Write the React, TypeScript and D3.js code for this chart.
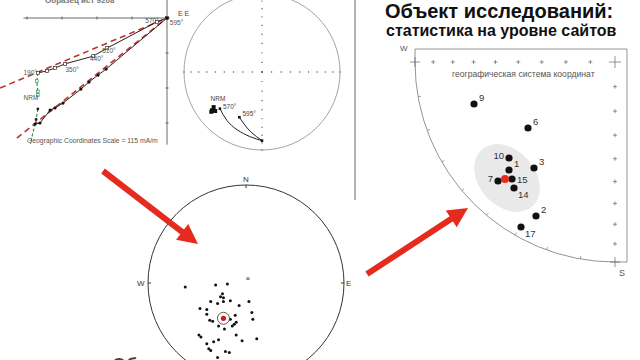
import React from "react";
import * as d3 from "d3";

// ---------- Data ----------
// Zijderveld diagram (units = scale ticks, origin at top-right)
const zijHorizontal: [number, number][] = [
  [0, 0], [-0.29, 0.11], [-1.71, 0.86], [-2.11, 1.09], [-2.91, 1.31], [-3.2, 1.43], [-3.43, 1.51], [-3.69, 1.57],
];
const zijVertical: [number, number][] = [
  [0, 0], [-1.74, 1.46], [-1.97, 1.63], [-2.23, 1.83], [-2.46, 2.03], [-2.97, 2.43], [-3.2, 2.57], [-3.34, 2.63], [-3.63, 3.0], [-3.77, 3.03],
];
const zijGreenH: [number, number][] = [[-3.69, 1.57], [-3.72, 1.8], [-3.69, 2.1], [-3.69, 2.2]];
const zijGreenV: [number, number][] = [[-3.69, 2.6], [-3.74, 2.9], [-3.86, 3.4], [-3.9, 3.6]];
const zijFits: [number, number][][] = [
  [[-4.77, 2.0], [0, 0]],
  [[-4.29, 3.43], [0, 0]],
];
const zijLabels = [
  { t: "570°", p: [-0.62, 0.14] },
  { t: "595°", p: [0.08, 0.2] },
  { t: "510°", p: [-1.85, 1.0] },
  { t: "440°", p: [-2.2, 1.23] },
  { t: "350°", p: [-2.9, 1.55] },
  { t: "190°", p: [-4.1, 1.62] },
  { t: "NRM", p: [-4.1, 2.33] },
];
const zijTicksX = [-4, -3, -2, -1];
const zijTicksY = [1, 2, 3];

// Demagnetisation stereonet (normalised projection coords, north up)
const demagNrm: [number, number][] = [[-0.62, -0.45], [-0.64, -0.49], [-0.65, -0.51], [-0.6, -0.5]];
const demagPath1: [number, number][] = [[-0.54, -0.47], [-0.45, -0.62], [-0.32, -0.74], [-0.15, -0.83], [0, -0.88]];
const demagPath2: [number, number][] = [[-0.29, -0.58], [-0.22, -0.68], [-0.13, -0.78], [0, -0.88]];

// Specimen directions stereonet
const specimenDirs: [number, number][] = [
  [-0.62, -0.04], [-0.31, -0.02], [-0.19, -0.01], [-0.24, -0.11], [-0.26, -0.14], [-0.23, -0.15], [-0.16, -0.18],
  [-0.36, -0.19], [-0.29, -0.21], [-0.23, -0.19], [-0.07, -0.23], [0.03, -0.19], [-0.47, -0.26], [-0.4, -0.27],
  [0.06, -0.3], [-0.4, -0.32], [-0.11, -0.33], [0.07, -0.37], [-0.37, -0.38], [-0.34, -0.39], [-0.16, -0.37],
  [-0.1, -0.4], [-0.12, -0.42], [-0.14, -0.44], [-0.22, -0.47], [-0.28, -0.44], [-0.48, -0.53], [-0.46, -0.55],
  [-0.28, -0.58], [-0.33, -0.6], [-0.1, -0.53], [-0.04, -0.59], [0.11, -0.57], [-0.4, -0.62], [-0.38, -0.67],
  [-0.36, -0.69], [-0.21, -0.7], [-0.17, -0.71], [-0.29, -0.76],
];
const specimenCross: [number, number] = [0.02, 0.05];
const specimenMean: [number, number] = [-0.23, -0.36];

// Site-level stereonet (quarter W–S)
const siteNames = ["9", "6", "10", "1", "3", "7", "15", "14", "2", "17"];
const siteX = [-0.705, -0.435, -0.53, -0.53, -0.405, -0.585, -0.515, -0.505, -0.395, -0.47];
const siteY = [-0.21, -0.33, -0.48, -0.54, -0.53, -0.595, -0.585, -0.63, -0.77, -0.825];
const siteLabelSide = ["r", "r", "l", "r", "r", "l", "rm", "rb", "r", "rb"];
const siteMean: [number, number] = [-0.55, -0.585];
const inclinationTicks = [0, 10, 20, 30, 40, 50, 60, 70, 80];
const azimuthTicks = [10, 20, 30, 40, 50, 60, 70, 80];

const eqArea = (inc: number) => Math.SQRT2 * Math.sin(((90 - inc) / 2) * Math.PI / 180);

const RED = "#e52b1e";
const FIT = "#c0322e";
const GREEN = "#2f8f5a";
const FONT = "Liberation Sans, Arial, sans-serif";

function Arrow({ x1, y1, x2, y2 }: { x1: number; y1: number; x2: number; y2: number }) {
  const dx = x2 - x1, dy = y2 - y1;
  const L = Math.hypot(dx, dy);
  const ux = dx / L, uy = dy / L;
  const head = 20, hw = 10;
  const bx = x2 - ux * head, by = y2 - uy * head;
  const px = -uy, py = ux;
  return (
    <g>
      <line x1={x1} y1={y1} x2={bx + ux * 2} y2={by + uy * 2} stroke={RED} strokeWidth={6} />
      <polygon points={`${x2},${y2} ${bx + px * hw},${by + py * hw} ${bx - px * hw},${by - py * hw}`} fill={RED} />
    </g>
  );
}

export default function App() {
  // Zijderveld scales
  const zx = d3.scaleLinear().domain([-1, 0]).range([132, 167]);
  const zy = d3.scaleLinear().domain([0, 1]).range([18, 53]);
  const zline = d3.line<[number, number]>().x((d) => zx(d[0])).y((d) => zy(d[1]));

  // Demag stereonet
  const dCx = 262, dCy = 72, dR = 78;
  const dx = d3.scaleLinear().domain([-1, 1]).range([dCx - dR, dCx + dR]);
  const dy = d3.scaleLinear().domain([-1, 1]).range([dCy + dR, dCy - dR]);
  const dcurve = d3.line<[number, number]>().x((d) => dx(d[0])).y((d) => dy(d[1])).curve(d3.curveNatural);

  // Specimen stereonet
  const sCx = 246, sCy = 283, sR = 98;
  const sx = d3.scaleLinear().domain([-1, 1]).range([sCx - sR, sCx + sR]);
  const sy = d3.scaleLinear().domain([-1, 1]).range([sCy + sR, sCy - sR]);

  // Site stereonet
  const qx = d3.scaleLinear().domain([-1, 0]).range([415, 615]);
  const qy = d3.scaleLinear().domain([-1, 0]).range([262, 62]);
  const qR = 200;
  const arcPath = d3.path();
  arcPath.moveTo(415, 49);
  arcPath.lineTo(627, 49);
  arcPath.lineTo(627, 262);
  arcPath.lineTo(615, 262);
  arcPath.arc(615, 62, qR, Math.PI / 2, Math.PI, false);
  arcPath.lineTo(415, 49);

  const eqTicks = inclinationTicks.map((i) => eqArea(i));
  const eqTicksSmall = [...inclinationTicks, 90].map((i) => eqArea(i));

  return (
    <svg width={640} height={360} style={{ position: "absolute", left: 0, top: 0, background: "#fff" }} fontFamily={FONT}>
      <rect width={640} height={360} fill="#fff" />

      {/* ---------- Zijderveld ---------- */}
      <text x={45} y={3} fontSize={8} fontWeight="bold" fill="#777">Образец ист 9208</text>
      <line x1={zx(-4.1)} y1={zy(0)} x2={zx(0.08)} y2={zy(0)} stroke="#444" strokeWidth={0.8} />
      <line x1={zx(0)} y1={0} x2={zx(0)} y2={zy(3.62)} stroke="#444" strokeWidth={0.8} />
      {zijTicksX.map((t) => (
        <line key={"tx" + t} x1={zx(t)} x2={zx(t)} y1={zy(0) - 1.5} y2={zy(0) + 1.5} stroke="#444" strokeWidth={0.8} />
      ))}
      {zijTicksY.map((t) => (
        <line key={"ty" + t} x1={zx(0) - 1.5} x2={zx(0) + 1.5} y1={zy(t)} y2={zy(t)} stroke="#444" strokeWidth={0.8} />
      ))}
      <text x={178} y={16} fontSize={7} fill="#444">E E</text>
      {zijFits.map((f, i) => (
        <path key={"fit" + i} d={zline(f) || ""} stroke={FIT} strokeWidth={1.6} strokeDasharray="6,4" fill="none" />
      ))}
      <path d={zline(zijGreenH) || ""} stroke={GREEN} strokeWidth={1.2} strokeDasharray="3,2" fill="none" />
      <path d={zline(zijGreenV) || ""} stroke={GREEN} strokeWidth={1.2} strokeDasharray="3,2" fill="none" />
      <path d={zline(zijHorizontal) || ""} stroke="#222" strokeWidth={1} fill="none" />
      <path d={zline(zijVertical) || ""} stroke="#222" strokeWidth={1} fill="none" />
      {zijHorizontal.map((p, i) => (
        <rect key={"zh" + i} x={zx(p[0]) - 1.5} y={zy(p[1]) - 1.5} width={3} height={3} fill="#fff" stroke="#333" strokeWidth={0.7} />
      ))}
      {zijGreenH.slice(1).map((p, i) => (
        <rect key={"zgh" + i} x={zx(p[0]) - 1.3} y={zy(p[1]) - 1.3} width={2.6} height={2.6} fill="#fff" stroke={GREEN} strokeWidth={0.7} />
      ))}
      {zijGreenV.slice(0, 2).map((p, i) => (
        <circle key={"zgv" + i} cx={zx(p[0])} cy={zy(p[1])} r={1.4} fill="#222" />
      ))}
      {zijVertical.map((p, i) => (
        <circle key={"zv" + i} cx={zx(p[0])} cy={zy(p[1])} r={1.6} fill="#111" />
      ))}
      {zijLabels.map((l) => (
        <text key={l.t} x={zx(l.p[0])} y={zy(l.p[1])} fontSize={6.5} fill="#555">{l.t}</text>
      ))}
      <text x={27} y={143} fontSize={6.8} fill="#555">Geographic Coordinates   Scale = 115 mA/m</text>

      {/* divider */}
      <line x1={355} y1={0} x2={355} y2={200} stroke="#555" strokeWidth={0.9} />

      {/* ---------- Demag stereonet ---------- */}
      <circle cx={dCx} cy={dCy} r={dR} fill="none" stroke="#999" strokeWidth={0.9} />
      {[-1, 1].flatMap((s) =>
        eqTicksSmall.map((r, i) => (
          <g key={"dt" + s + i}>
            <circle cx={dx(s * r)} cy={dCy} r={0.7} fill="#555" />
            <circle cx={dCx} cy={dy(s * r)} r={0.7} fill="#555" />
          </g>
        ))
      )}
      <path d={dcurve(demagPath1) || ""} stroke="#222" strokeWidth={1} fill="none" />
      <path d={dcurve(demagPath2) || ""} stroke="#222" strokeWidth={1} fill="none" />
      {demagNrm.map((p, i) => (
        <rect key={"dn" + i} x={dx(p[0]) - 2} y={dy(p[1]) - 2} width={4} height={4} fill="#111" />
      ))}
      {[demagPath1[0], demagPath2[0], demagPath1[demagPath1.length - 1]].map((p, i) => (
        <rect key={"de" + i} x={dx(p[0]) - 1.3} y={dy(p[1]) - 1.3} width={2.6} height={2.6} fill="#111" />
      ))}
      <text x={dx(-0.66)} y={dy(-0.37)} fontSize={6.5} fill="#444">NRM</text>
      <text x={dx(-0.5)} y={dy(-0.47)} fontSize={6.5} fill="#444">570°</text>
      <text x={dx(-0.25)} y={dy(-0.56)} fontSize={6.5} fill="#444">595°</text>

      {/* ---------- Specimen stereonet ---------- */}
      <circle cx={sCx} cy={sCy} r={sR} fill="none" stroke="#333" strokeWidth={1} />
      <line x1={sCx} y1={sCy - sR} x2={sCx} y2={sCy - sR + 3} stroke="#333" />
      <line x1={sCx - sR} y1={sCy} x2={sCx - sR + 3} y2={sCy} stroke="#333" />
      <line x1={sCx + sR} y1={sCy} x2={sCx + sR - 3} y2={sCy} stroke="#333" />
      <text x={sCx - 3} y={sCy - sR - 3} fontSize={8} fill="#333">N</text>
      <text x={sCx - sR - 11} y={sCy + 3} fontSize={8} fill="#333">W</text>
      <text x={sCx + sR + 2} y={sCy + 3} fontSize={8} fill="#333">E</text>
      {specimenDirs.map((p, i) => (
        <circle key={"sd" + i} cx={sx(p[0])} cy={sy(p[1])} r={1.5} fill="#111" />
      ))}
      <text x={sx(specimenCross[0])} y={sy(specimenCross[1]) + 3} fontSize={8} textAnchor="middle" fill="#222">×</text>
      <circle cx={sx(specimenMean[0])} cy={sy(specimenMean[1])} r={6} fill="#fff" stroke="#333" strokeWidth={0.8} />
      <circle cx={sx(specimenMean[0])} cy={sy(specimenMean[1])} r={2.6} fill="#b22" />
      <text x={112} y={371} fontSize={18} fontWeight="bold" fill="#444">Образцы</text>

      {/* ---------- Arrows ---------- */}
      <Arrow x1={103} y1={171} x2={198} y2={244} />
      <Arrow x1={367} y1={274} x2={468} y2={208} />

      {/* ---------- Title ---------- */}
      <text x={385} y={18} fontSize={20} fontWeight="bold" fill="#111">Объект исследований:</text>
      <text x={386} y={36} fontSize={16} fontWeight="bold" fill="#111">статистика на уровне сайтов</text>

      {/* ---------- Site stereonet ---------- */}
      <path d={arcPath.toString()} fill="none" stroke="#888" strokeWidth={0.9} />
      <text x={400} y={51} fontSize={8} fill="#555">W</text>
      <text x={619} y={276} fontSize={9} fill="#555">S</text>
      {azimuthTicks.map((a) => {
        const th = (a * Math.PI) / 180;
        const x1 = 615 - qR * Math.cos(th), y1 = 62 + qR * Math.sin(th);
        const x2 = 615 - (qR - 3) * Math.cos(th), y2 = 62 + (qR - 3) * Math.sin(th);
        return <line key={"az" + a} x1={x1} y1={y1} x2={x2} y2={y2} stroke="#888" strokeWidth={0.8} />;
      })}
      {eqTicks.map((r, i) => {
        const big = i === 0;
        const s = big ? 5 : 2;
        return (
          <g key={"it" + i} stroke="#666" strokeWidth={0.7}>
            <line x1={qx(-r) - s} x2={qx(-r) + s} y1={qy(0)} y2={qy(0)} />
            <line x1={qx(-r)} x2={qx(-r)} y1={qy(0) - s} y2={qy(0) + s} />
            <line x1={qx(0) - s} x2={qx(0) + s} y1={qy(-r)} y2={qy(-r)} />
            <line x1={qx(0)} x2={qx(0)} y1={qy(-r) - s} y2={qy(-r) + s} />
          </g>
        );
      })}
      <g stroke="#666" strokeWidth={0.7}>
        <line x1={qx(0) - 6} x2={qx(0) + 6} y1={qy(0)} y2={qy(0)} />
        <line x1={qx(0)} x2={qx(0)} y1={qy(0) - 6} y2={qy(0) + 6} />
      </g>
      <text x={452} y={77} fontSize={8.6} fill="#555">географическая система координат</text>
      <ellipse
        cx={qx(-0.54)}
        cy={qy(-0.58)}
        rx={38}
        ry={28}
        transform={`rotate(48 ${qx(-0.54)} ${qy(-0.58)})`}
        fill="#e9e9e9"
      />
      {siteNames.map((n, i) => {
        const cx = qx(siteX[i]), cy = qy(siteY[i]);
        const side = siteLabelSide[i];
        let tx = cx + 5, ty = cy - 3, anchor: "start" | "end" = "start";
        if (side === "l") { tx = cx - 5; ty = cy + 1; anchor = "end"; }
        if (side === "rm") { tx = cx + 5; ty = cy + 4; }
        if (side === "rb") { tx = cx + 4; ty = cy + 10; }
        return (
          <g key={"s" + n}>
            <circle cx={cx} cy={cy} r={3.6} fill="#111" />
            <text x={tx} y={ty} fontSize={9.5} fill="#333" textAnchor={anchor}>{n}</text>
          </g>
        );
      })}
      <circle cx={qx(siteMean[0])} cy={qy(siteMean[1])} r={4} fill="#e52b1e" />
    </svg>
  );
}
